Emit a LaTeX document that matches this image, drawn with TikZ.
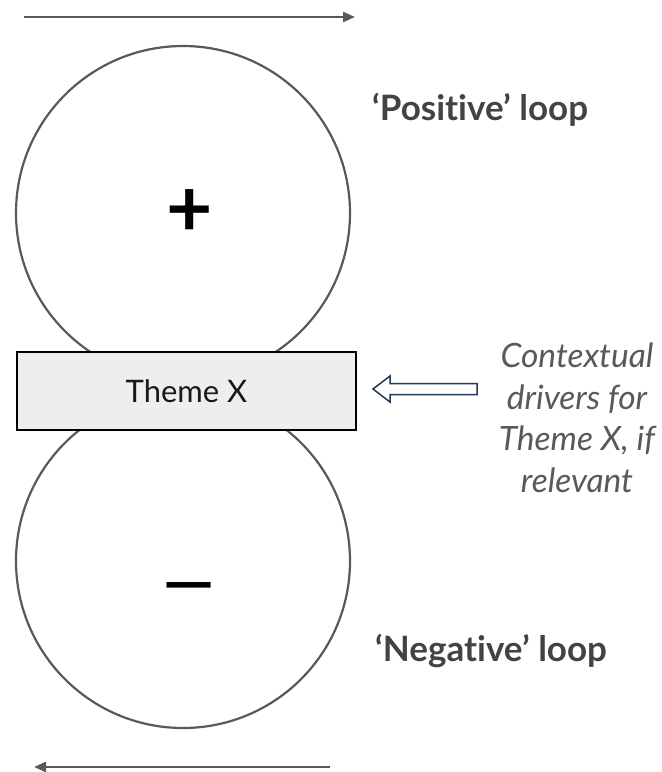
\documentclass[tikz,border=0pt]{standalone}
\usepackage{fontspec}
\setmainfont[Ligatures={NoCommon}]{Lato}
\usetikzlibrary{arrows.meta}
\definecolor{loopgray}{HTML}{595959}
\definecolor{labelgray}{HTML}{434343}
\definecolor{notegray}{HTML}{595959}
\definecolor{boxfill}{HTML}{EEEEEE}
\definecolor{navy}{HTML}{1F3A5A}
\tikzset{
  loopcircle/.style={draw=loopgray, line width=2.2pt, circle, minimum size=334pt, inner sep=0pt},
  flowarrow/.style={draw=loopgray, line width=2.5pt, -{Triangle[length=12pt,width=10pt]}},
  themebox/.style={draw=black, line width=1.3pt, fill=boxfill, minimum width=339pt, minimum height=78pt, inner sep=0pt, font=\fontsize{31}{36}\selectfont, text=black!90},
  looplabel/.style={anchor=base west, font=\fontsize{35}{40}\selectfont\bfseries, text=labelgray, inner sep=0pt},
  notetext/.style={align=center, font=\fontsize{33.5}{41.5}\selectfont\itshape, text=notegray, inner sep=0pt},
  hollowarrow/.style={draw=navy, line width=1.5pt, fill=white, line join=miter}
}
\begin{document}
\begin{tikzpicture}[x=1pt,y=-1pt]
\useasboundingbox (0,0) rectangle (662,772);
% arrows at top and bottom
\coordinate (topL) at (24,17);
\coordinate (topR) at (355,17);
\coordinate (botR) at (330,767);
\coordinate (botL) at (34,767);
\draw[flowarrow] (topL) -- (topR);
\draw[flowarrow] (botR) -- (botL);
% loops
\node[loopcircle] (upper) at (183,213) {};
\node[loopcircle] (lower) at (183,561) {};
\node[font=\fontsize{80}{80}\selectfont\bfseries, inner sep=0pt] (plus) at (190,213) {+};
\node[font=\fontsize{64}{64}\selectfont\bfseries, inner sep=0pt, xscale=1.7] (minus) at (189,593) {–};
% theme box
\node[themebox] (theme) at (186.5,391) {Theme X};
% labels
\node[looplabel] (poslab) at (372,120) {‘Positive’ loop};
\node[looplabel] (neglab) at (375,661) {‘Negative’ loop};
% contextual drivers
\node[notetext] (note) at (577,418) {Contextual\\drivers for\\Theme X, if\\relevant};
% hollow block arrow
\draw[hollowarrow] (373,389) -- (390,376) -- (390,383.5) -- (477,383.5) -- (477,394.5) -- (390,394.5) -- (390,402) -- cycle;
\end{tikzpicture}
\end{document}
